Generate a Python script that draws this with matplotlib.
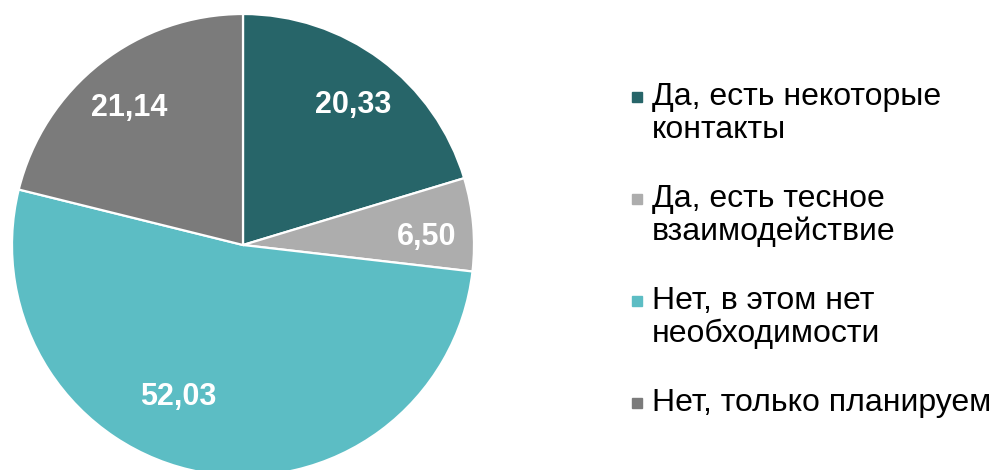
import matplotlib.pyplot as plt
from matplotlib.patches import Rectangle

plt.rcParams['font.family'] = ['Liberation Sans', 'DejaVu Sans']

# Survey answers and shares (%)
categories = ['Да, есть некоторые\nконтакты',
              'Да, есть тесное\nвзаимодействие',
              'Нет, в этом нет\nнеобходимости',
              'Нет, только планируем']
values = [20.33, 6.50, 52.03, 21.14]
colors = ['#276569', '#ADADAD', '#5CBDC4', '#7B7B7B']

fig = plt.figure(figsize=(9.96, 4.7), dpi=100)

# pie axes: center at (243, 245) px from top-left, radius 231 px
cx, cy, r = 243, 470 - 245, 231
ax = fig.add_axes([(cx - r) / 996, (cy - r) / 470, 2 * r / 996, 2 * r / 470])

wedges, _, autotexts = ax.pie(
    values, colors=colors, startangle=90, counterclock=False,
    autopct=lambda p: f'{p:.2f}'.replace('.', ','), pctdistance=0.8,
    wedgeprops=dict(edgecolor='white', linewidth=1.6),
    textprops=dict(color='white', fontsize=22, fontweight='bold'))
ax.set_xlim(-1, 1)
ax.set_ylim(-1, 1)
ax.set_aspect('equal')

# labels sit a bit lower in the original; the big slice label is further left
for t in autotexts:
    x, y = t.get_position()
    t.set_position((x, y - 0.035))
autotexts[2].set_position((-0.28, -0.66))

# legend drawn by hand: marker square + wrapped text
top = 470 - 82
for i, (lab, col) in enumerate(zip(categories, colors)):
    y = top - i * 102
    fig.patches.append(Rectangle((632 / 996, (y - 20) / 470), 10 / 996, 10 / 470,
                                 transform=fig.transFigure, color=col))
    fig.text(652 / 996, y / 470, lab, fontsize=23, va='top', ha='left',
             linespacing=1.12, color='black')

fig.savefig('out.png', dpi=100)
